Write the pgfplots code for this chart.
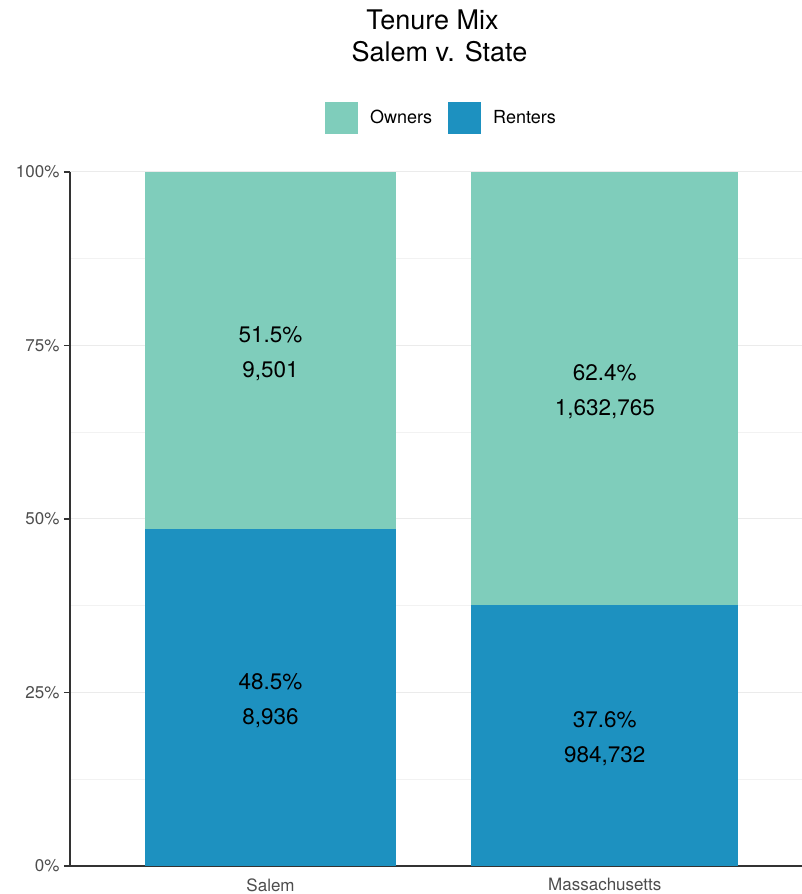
\documentclass[border=0pt]{standalone}
\usepackage{pgfplots}
\pgfplotsset{compat=1.18}
\usepackage{fontspec}
\setmainfont{TeX Gyre Heros}
\definecolor{owners}{HTML}{7FCDBB}
\definecolor{renters}{HTML}{1D91C0}
\definecolor{spine}{HTML}{333333}
\definecolor{ticklab}{HTML}{4D4D4D}
\begin{document}
\begin{tikzpicture}
\useasboundingbox (-70pt,-28pt) rectangle (732pt,866pt);
\begin{axis}[
  at={(0pt,0pt)}, anchor=south west,
  scale only axis, width=732pt, height=694pt,
  ybar stacked,
  xmin=-0.6, xmax=1.59, ymin=0, ymax=100,
  enlarge y limits=false,
  axis lines=left, axis line style={-, spine, line width=1.5pt},
  xtick={0,1}, xticklabels={Salem,Massachusetts},
  x tick style={draw=none},
  ytick={0,25,50,75,100}, yticklabels={0\%,25\%,50\%,75\%,100\%},
  minor ytick={12.5,37.5,62.5,87.5},
  y tick style={spine, line width=1.2pt},
  tick align=outside, major tick length=6pt, minor tick length=0pt,
  ymajorgrids, yminorgrids,
  major grid style={draw=gray!16, line width=1pt},
  minor grid style={draw=gray!10, line width=0.9pt},
  tick label style={font=\fontsize{17}{20}\selectfont, text=ticklab},
  yticklabel style={xshift=-1pt},
  xticklabel style={yshift=-3pt},
  title={Tenure Mix\hspace*{7pt}\\\hspace*{7pt}Salem v. State},
  title style={at={(0.5,1.188)}, anchor=center, align=center, font=\fontsize{27}{32}\selectfont},
  legend style={at={(0.5,1.0778)}, anchor=center, xshift=5.5pt, draw=none, fill=none,
    legend columns=2, font=\fontsize{18}{20}\selectfont,
    /tikz/every odd column/.append style={column sep=10pt},
    /tikz/every even column/.append style={column sep=14pt}},
  legend image code/.code={\path[#1] (0pt,-16pt) rectangle (33pt,16pt);},
  reverse legend,
  nodes near coords,
  point meta=explicit symbolic,
  every node near coord/.append style={anchor=center, align=center, text=black,
    yshift=-3pt, font=\fontsize{22.5}{35}\selectfont},
]
% Renters (bottom segment): Salem bar, then Massachusetts bar (wider)
\addplot[fill=renters, draw=none, bar width=0.749] coordinates {(0,48.5) [48.5\%\\8,936] (1,0) []};
\addlegendentry{Renters}
\addplot[fill=renters, draw=none, bar width=0.80, forget plot] coordinates {(0,0) [] (1,37.6) [37.6\%\\984,732]};
% Owners (top segment)
\addplot[fill=owners, draw=none, bar width=0.749] coordinates {(0,51.5) [51.5\%\\9,501] (1,0) []};
\addlegendentry{Owners}
\addplot[fill=owners, draw=none, bar width=0.80, forget plot] coordinates {(0,0) [] (1,62.4) [62.4\%\\1,632,765]};
\end{axis}
\end{tikzpicture}
\end{document}
